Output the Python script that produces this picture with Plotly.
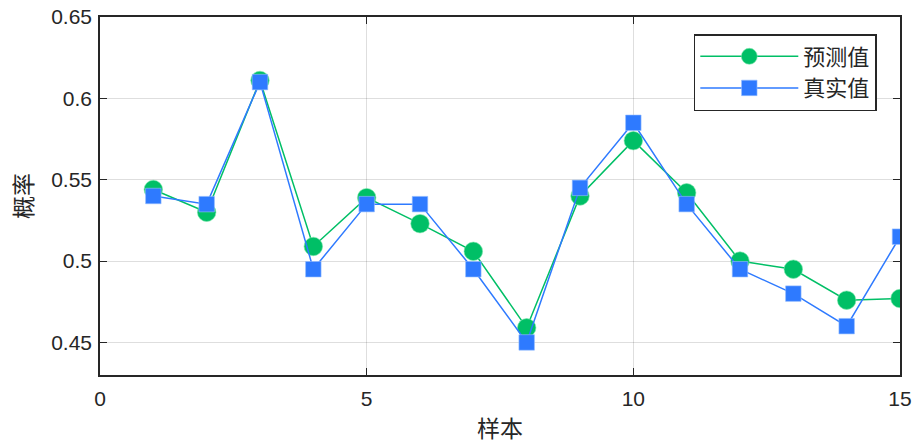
import plotly.graph_objects as go

samples = list(range(1, 16))
predicted = [0.544, 0.530, 0.611, 0.509, 0.539, 0.523, 0.506, 0.459,
             0.540, 0.574, 0.542, 0.500, 0.495, 0.476, 0.477]
actual = [0.540, 0.535, 0.610, 0.495, 0.535, 0.535, 0.495, 0.450,
          0.545, 0.585, 0.535, 0.495, 0.480, 0.460, 0.515]
x_ticks = [0, 5, 10, 15]
y_ticks = [0.45, 0.5, 0.55, 0.6, 0.65]

GREEN = "rgb(0,191,102)"
BLUE = "rgb(46,122,255)"
AXIS = "#262626"
CJK = "Noto Sans CJK SC"

fig = go.Figure()
fig.add_trace(go.Scatter(
    x=samples, y=predicted, name="预测值", mode="lines+markers",
    line=dict(color=GREEN, width=1.5),
    marker=dict(symbol="circle", size=18.5, color=GREEN,
                line=dict(width=0.6, color="rgba(120,230,170,1)")),
))
fig.add_trace(go.Scatter(
    x=samples, y=actual, name="真实值", mode="lines+markers",
    line=dict(color=BLUE, width=1.5),
    marker=dict(symbol="square", size=15.5, color=BLUE,
                line=dict(width=0.6, color="rgba(150,190,255,1)")),
))

axis_common = dict(
    showline=True, linecolor=AXIS, linewidth=1.5, mirror="allticks",
    ticks="inside", ticklen=7, tickwidth=1.2, tickcolor=AXIS,
    showgrid=True, gridcolor="rgba(0,0,0,0.13)", gridwidth=1,
    zeroline=False, automargin=False,
    tickfont=dict(family="Liberation Sans, Arial", size=21, color=AXIS),
)

fig.update_xaxes(range=[0, 15], tickvals=x_ticks, ticklabelstandoff=4,
                 title=dict(text="样本", font=dict(family=CJK, size=23, color=AXIS),
                            standoff=12),
                 **axis_common)
fig.update_yaxes(range=[0.43, 0.65], tickvals=y_ticks, ticklabelstandoff=2,
                 title=dict(text="概率", font=dict(family=CJK, size=23, color=AXIS),
                            standoff=12),
                 **axis_common)

fig.update_layout(
    width=915, height=445,
    margin=dict(l=100, r=15, t=17, b=70),
    plot_bgcolor="white", paper_bgcolor="white",
    showlegend=True,
    legend=dict(
        x=0.971, y=0.9525, xanchor="right", yanchor="top",
        bgcolor="white", bordercolor=AXIS, borderwidth=1.5,
        font=dict(family=CJK, size=22, color=AXIS),
        itemwidth=98, tracegroupgap=0,
    ),
)

fig.write_html("out.html")
